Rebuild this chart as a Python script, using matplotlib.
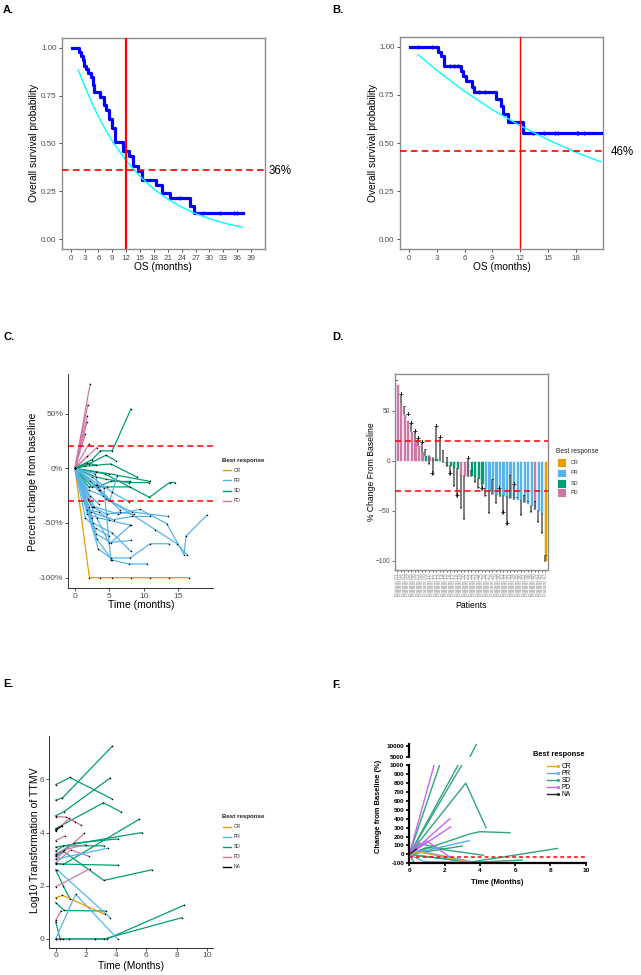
import matplotlib
matplotlib.use("Agg")
import matplotlib.pyplot as plt
from matplotlib.lines import Line2D
from matplotlib.patches import Rectangle

plt.rcParams['font.family'] = ['Liberation Sans', 'DejaVu Sans']

# ---------------- data ----------------
# Panel A (Kaplan-Meier, step post)
A_time = [0.3, 1.7, 2.2, 2.6, 2.9, 3.3, 3.8, 4.4, 4.8, 5.1, 6.3, 7.3, 7.6, 8.3, 8.9, 9.6,
          11.4, 12.5, 13.4, 14.5, 15.4, 18.4, 19.7, 21.5, 25.7, 26.7, 37.2]
A_surv = [1.00, 0.979, 0.957, 0.936, 0.904, 0.887, 0.867, 0.845, 0.806, 0.771, 0.745, 0.70,
          0.676, 0.627, 0.58, 0.506, 0.459, 0.433, 0.385, 0.355, 0.312, 0.286, 0.243, 0.217,
          0.173, 0.139, 0.139]
A_cens_t = [23.7, 28.5, 32.2, 35.4, 36.0]
A_cens_s = [0.217, 0.139, 0.139, 0.139, 0.139]
A_fit_t = [1.65, 3, 5, 7, 9, 12, 15, 18, 21, 24, 27, 30, 33, 37]
A_fit_s = [0.884, 0.800, 0.689, 0.594, 0.512, 0.410, 0.328, 0.262, 0.210, 0.168, 0.134, 0.108, 0.086, 0.064]
A_rate = 0.36

# Panel B
B_time = [0.1, 3.1, 3.46, 3.75, 5.58, 5.87, 6.12, 6.84, 7.05, 9.4, 9.94, 10.2, 10.65, 12.35, 20.8]
B_surv = [1.00, 0.974, 0.953, 0.901, 0.872, 0.846, 0.820, 0.789, 0.763, 0.728, 0.690, 0.650,
          0.610, 0.551, 0.551]
B_cens_t = [1.0, 2.45, 4.4, 4.9, 5.3, 7.6, 8.2, 13.4, 14.6, 15.8, 16.1, 18.1, 18.3, 18.9]
B_cens_s = [1.0, 1.0, 0.901, 0.901, 0.901, 0.763, 0.763, 0.551, 0.551, 0.551, 0.551, 0.551, 0.551, 0.551]
B_fit_t = [1, 3, 6, 9, 12, 15, 18, 20.7]
B_fit_s = [0.958, 0.877, 0.768, 0.673, 0.590, 0.517, 0.453, 0.402]
B_rate = 0.46

# Panel C (spider plot, % change)
C_resp = ['CR'] + ['PD'] * 9 + ['SD'] * 10 + ['PR'] * 20
C_times = [
    [0, 2.1, 3.6, 5.4, 8.1, 10.9, 13.6, 16.5],
    [0, 2.2], [0, 1.85], [0, 1.8], [0, 1.75], [0, 1.5], [0, 2.0], [0, 3.2], [0, 1.8], [0, 2.0, 2.5],
    [0, 2.5, 3.7, 5.4, 8.1], [0, 2.0, 4.5, 5.9], [0, 1.5, 5.2, 9.0], [0, 3.0, 5.0, 10.9],
    [0, 4.3, 10.8, 13.7, 14.5], [0, 3.3, 5.2, 8.0], [0, 2.0, 4.7, 8.0], [0, 3.1, 4.5, 7.8, 10.7],
    [0, 2.5, 3.2], [0, 1.8, 3.0],
    [0, 2.0, 4.9, 8.1], [0, 3.1, 5.2, 8.1], [0, 3.4, 5.2, 8.0, 10.9, 13.6],
    [0, 3.2, 5.4, 7.8, 10.5], [0, 2.6, 5.4, 8.1], [0, 2.3, 5.6, 8.3, 10.9],
    [0, 2.8, 6.3, 9.4, 13.3, 15.8, 16.1, 19.1], [0, 2.0, 4.0, 11.6, 14.8, 16.2],
    [0, 2.5, 5.4, 7.8], [0, 1.8, 3.5, 5.0], [0, 1.5, 3.0, 5.0], [0, 3.0, 5.1, 6.1],
    [0, 4.2, 5.2], [0, 2.2, 4.5, 8.3, 13.5], [0, 1.8, 3.2, 8.0], [0, 2.5, 4.6, 6.5, 8.5],
    [0, 2.2, 3.5], [0, 1.9, 2.6], [0, 2.9, 3.6], [0, 3.5, 6.5],
]
C_values = [
    [0, -100, -100, -100, -100, -100, -100, -100],
    [0, 77], [0, 58], [0, 48], [0, 42], [0, 31], [0, 22], [0, 19], [0, 11], [0, -35, -45],
    [0, 8, 16, 16, 54], [0, 4, 12, 7], [0, 2, 4, -8], [0, -3, -5, -12],
    [0, -5, -26.5, -13, -13], [0, -17, -12, -12], [0, -17, -17, -17], [0, -8, -10, -13, -13],
    [0, -17, -15], [0, 5, 3],
    [0, -30, -68, -66], [0, -60, -68, -52], [0, -74, -82, -82, -69, -69],
    [0, -65, -84, -87.5, -87.5], [0, -50, -59, -76], [0, -40, -47, -44, -44],
    [0, -35, -42, -37.5, -50.6, -79, -62, -43], [0, -20, -25, -56, -69, -79],
    [0, -8, -22, -30.5], [0, -38, -40, -47], [0, -45, -55, -62], [0, -15, -29, -7],
    [0, -18, -84], [0, -12, -28, -40, -44], [0, -42, -45, -52], [0, -35, -42, -40, -42],
    [0, -25, -33], [0, -28, -35], [0, -5, -20], [0, -20, -38],
]

# Panel D (waterfall)
D_vals = [77, 58, 47, 41, 30, 22, 16, 10, 6, 5, 3, 3, 1, -1, -5, -5, -7, -8, -15, -15, -15,
          -15, -16, -18, -23, -28, -30, -33, -34, -35, -35, -36, -37, -38, -39, -40, -41, -43,
          -45, -48, -50, -53, -100]
D_resp = (['PD'] * 8 + ['SD', 'PD', 'PD', 'SD'] + ['SD'] * 6 + ['PD'] * 3 + ['SD'] * 4
          + ['PR'] * 14 + ['PD', 'PR', 'PR', 'CR'])
D_mark = [80, 65, 54, 45, 36, 28, 21, 17, 11, -3, -14, 33, 22, 10, 3, -14, -25, -36, -47,
          -58, 1, -10, -21, -27, -29, -35, -52, -19, -42, -29, -53, -64, -15, -25, -37, -54,
          -35, -41, -51, -41, -61, -72, -95]
D_sign = ['-', '+', '-', '+', '+', '+', '+', '+', '-', '-', '+', '+', '+', '-', '-', '+', '-',
          '+', '-', '-', '+', '-', '-', '-', '+', '-', '-', '-', '-', '+', '+', '+', '-', '+',
          '-', '-', '-', '-', '-', '-', '-', '-', '-']
D_ids = ['Patient %02d' % (i + 1) for i in range(len(D_vals))]

# Panel E (log10 TTMV)
E_resp = ['SD'] * 15 + ['PD'] * 9 + ['PR'] * 3 + ['CR', 'NA']
E_times = [
    [0, 0.95, 3.7], [0, 0.45, 3.75], [0, 0.57, 3.6], [0, 3.16, 4.33], [0, 5.7],
    [0, 1.2, 4.1], [0, 4.15], [0, 0.5, 3.18, 6.36], [0, 0.5, 5.52], [0, 0.57, 3.3],
    [0, 0.3], [0, 2.6, 3.4, 8.5], [0, 3.2, 8.34], [0, 0.5, 3.2], [0, 0.5, 0.95],
    [0, 0.7, 1.68], [0, 0.6], [0, 0.88, 1.3], [0, 1.9], [0, 1.0, 2.23], [0, 2.27],
    [0, 0.35], [0, 0.3, 0.5, 0.9, 2.6], [0, 0.55, 2.0],
    [0, 3.44], [0.1, 3.6], [0, 1.32, 4.1],
    [0, 0.45, 3.27], [0, 0.45],
]
E_values = [
    [5.8, 6.07, 5.27], [5.22, 5.3, 7.25], [4.63, 4.79, 6.05], [4.15, 5.12, 4.77], [3.45, 4.0],
    [3.15, 3.6, 3.76], [2.82, 2.77], [3.1, 3.3, 2.2, 2.6], [2.85, 2.8, 4.5], [1.37, 1.07, 1.05],
    [0.65, 0], [0, 0, 0, 1.27], [0, 0, 0.8], [3.3, 3.5, 3.5], [2.6, 2.0, 1.5],
    [4.6, 4.58, 4.28], [3.7, 3.87], [4.05, 4.53, 4.4], [3.0, 3.97], [2.85, 3.35, 3.1],
    [1.96, 2.64], [0.7, 1.05], [0, 0, 0, 0, 0], [3.2, 3.35, 3.55],
    [3.0, 3.41], [2.6, 0.8], [0, 1.68, 0],
    [1.55, 1.64, 0.92], [4.1, 4.25],
]

# Panel F (change from baseline, broken axis)
F_resp = ['SD'] * 11 + ['PD'] * 5 + ['PR'] * 3 + ['CR', 'NA']
F_times = [
    [0, 3.2, 3.8], [0, 1.8], [0, 2.9], [0, 3.2, 4.35], [0, 3.4, 4.0, 5.7], [0, 3.0],
    [0, 1.0, 4.2], [0, 3.5, 6.4], [0, 3.5, 8.4], [0, 0.3], [0, 0.6, 2.0],
    [0, 1.4], [0, 2.3], [0, 2.35], [0, 0.5], [0, 1.0, 2.3],
    [0, 3.4], [0, 0.8, 3.6], [0, 0.5, 3.5],
    [0, 0.5, 3.3], [0, 0.4],
]
F_values = [
    [0, 1080, 10800], [0, 1050], [0, 1050], [0, 800, 300], [0, 228, 255, 243], [0, 94],
    [0, 80, -10], [0, -90, -64], [0, -85, 67], [0, -100], [0, 120, 60],
    [0, 1000], [0, 400], [0, 310], [0, 150], [0, 150, -30],
    [0, 154], [0, -80, -90], [0, 40, -80],
    [0, 30, -82], [0, 60],
]

resp_order = ['CR', 'PR', 'SD', 'PD']
gg_col = {'CR': '#E69F00', 'PR': '#56B4E9', 'SD': '#009E73', 'PD': '#CC79A7', 'NA': '#000000'}
gp_col = {'CR': '#F39A2C', 'PR': '#5AA9EE', 'SD': '#2FA57C', 'PD': '#C466F0', 'NA': '#222222'}

# ---------------- figure ----------------
W, H = 641, 975
fig = plt.figure(figsize=(W / 100, H / 100), dpi=100)


def add_ax(l, t, r, b):
    return fig.add_axes([l / W, 1 - b / H, (r - l) / W, (b - t) / H])


def ftext(x, y, s, **kw):
    fig.text(x / W, 1 - y / H, s, **kw)


def fline(x0, x1, y, **kw):
    fig.add_artist(Line2D([x0 / W, x1 / W], [1 - y / H, 1 - y / H], transform=fig.transFigure, **kw))


TICKC = '#4D4D4D'
RED = '#FF0000'

# panel letters
for lab, x, y in [('A.', 3, 10), ('B.', 332, 10), ('C.', 3, 337), ('D.', 332, 337),
                  ('E.', 3, 684), ('F.', 332, 685)]:
    ftext(x, y, lab, fontsize=8, fontweight='bold', va='center', ha='left')


def km_panel(ax, t, s, ct, cs, ft, fs, rate, xlim, xticks, vline_lw):
    ax.step(t, s, where='post', color='#0000FF', lw=2.3, zorder=3)
    ax.plot(ct, cs, ls='none', marker='+', ms=3.5, mew=1.0, color='#0000FF', zorder=4)
    ax.plot(ft, fs, color='#00FFFF', lw=1.0, zorder=4)
    ax.axvline(12, color=RED, lw=vline_lw, zorder=5)
    ax.axhline(rate, color=RED, lw=1.2, dashes=(4, 2.5), zorder=5)
    ax.set_xlim(*xlim)
    ax.set_ylim(-0.05, 1.05)
    ax.set_xticks(xticks)
    ax.set_yticks([0, 0.25, 0.5, 0.75, 1.0])
    ax.set_yticklabels(['0.00', '0.25', '0.50', '0.75', '1.00'])
    for sp in ax.spines.values():
        sp.set_color('#8C8C8C')
        sp.set_linewidth(1.0)
    ax.tick_params(labelsize=5.8, colors='#333333', labelcolor=TICKC, length=2.5, width=0.6, pad=1.5)


axA = add_ax(62, 38, 265, 249)
km_panel(axA, A_time, A_surv, A_cens_t, A_cens_s, A_fit_t, A_fit_s, A_rate,
         (-1.88, 42.0), list(range(0, 40, 3)), 1.6)
ftext(34, 143, 'Overall survival probability', rotation=90, fontsize=7.3, ha='center', va='center')
ftext(163, 267, 'OS (months)', fontsize=7.3, ha='center', va='center')
ftext(269, 170.5, '36%', fontsize=8.3, ha='left', va='center')

axB = add_ax(400, 37, 603, 249)
km_panel(axB, B_time, B_surv, B_cens_t, B_cens_s, B_fit_t, B_fit_s, B_rate,
         (-0.97, 20.95), list(range(0, 19, 3)), 1.0)
ftext(373, 143, 'Overall survival probability', rotation=90, fontsize=7.3, ha='center', va='center')
ftext(502, 267, 'OS (months)', fontsize=7.3, ha='center', va='center')
ftext(611, 152, '46%', fontsize=8.3, ha='left', va='center')


def classic(ax):
    for k in ('top', 'right'):
        ax.spines[k].set_visible(False)
    for k in ('left', 'bottom'):
        ax.spines[k].set_color('#333333')
        ax.spines[k].set_linewidth(0.7)
    ax.tick_params(labelsize=6, colors='#333333', labelcolor=TICKC, length=2.5, width=0.6, pad=1.0)


def gg_legend(x, ytitle, ys, labels, colors):
    ftext(x, ytitle, 'Best response', fontsize=4.4, fontweight='bold', ha='left', va='center',
          color='#222222')
    for yy, lab in zip(ys, labels):
        fline(x + 0.5, x + 8.5, yy, color=colors[lab], lw=1.0)
        ftext(x + 12, yy, lab, fontsize=3.6, ha='left', va='center', color='#333333')


# Panel C
axC = add_ax(68, 374, 213, 588)
for xs, ys, r in zip(C_times, C_values, C_resp):
    axC.plot(xs, ys, color=gg_col[r], lw=0.9, zorder=2)
    axC.scatter(xs, ys, s=1.2, color='black', zorder=3, linewidths=0)
axC.axhline(20, color=RED, lw=1.1, dashes=(4, 2.5), zorder=4)
axC.axhline(-30, color=RED, lw=1.1, dashes=(4, 2.5), zorder=4)
axC.set_xlim(-1.0, 20.0)
axC.set_ylim(-109.5, 86.3)
axC.set_xticks([0, 5, 10, 15])
axC.set_yticks([-100, -50, 0, 50])
axC.set_yticklabels(['-100%', '-50%', '0%', '50%'])
classic(axC)
ftext(33, 482, 'Percent change from baseline', rotation=90, fontsize=7.5, ha='center', va='center')
ftext(141, 605, 'Time (months)', fontsize=7.5, ha='center', va='center')
gg_legend(222, 461, [470, 480, 490.5, 500.5], resp_order, gg_col)

# Panel D
axD = add_ax(395, 374, 548, 570)
xs = list(range(1, len(D_vals) + 1))
axD.bar(xs, D_vals, width=0.92, color=[gg_col[r] for r in D_resp], edgecolor='white',
        linewidth=0.4, zorder=2)
for x, v, m, sg in zip(xs, D_vals, D_mark, D_sign):
    if abs(m - v) > 4:
        axD.plot([x, x], [v, m], color='#5A5A5A', lw=1.1, zorder=3)
    axD.text(x, m, sg, fontsize=6 if sg == '+' else 4.5, fontweight='bold', ha='center',
             va='center', color='black', zorder=4)
axD.axhline(20, color=RED, lw=1.1, dashes=(4, 2.5), zorder=5)
axD.axhline(-30, color=RED, lw=1.1, dashes=(4, 2.5), zorder=5)
axD.set_xlim(0.35, 43.75)
axD.set_ylim(-109.3, 86.7)
axD.set_yticks([-100, -50, 0, 50])
axD.set_xticks(xs)
axD.set_xticklabels(D_ids, rotation=90, fontsize=3.6, color='#888888')
for sp in axD.spines.values():
    sp.set_color('#8C8C8C')
    sp.set_linewidth(1.0)
axD.tick_params(axis='y', labelsize=4.8, colors='#333333', labelcolor=TICKC, length=2, width=0.5, pad=1.5)
axD.tick_params(axis='x', length=1.5, width=0.4, pad=1)
ftext(372, 472, '% Change From Baseline', rotation=90, fontsize=6.2, ha='center', va='center')
ftext(471, 606, 'Patients', fontsize=6.2, ha='center', va='center')
ftext(556.5, 451.5, 'Best response', fontsize=4.8, ha='left', va='center', color='#222222')
for yy, lab in zip([462.5, 473, 483.5, 492.5], resp_order):
    fig.add_artist(Rectangle(((557.3) / W, 1 - (yy + 4.2) / H), 8.7 / W, 8.4 / H,
                             transform=fig.transFigure, facecolor=gg_col[lab],
                             edgecolor='white', lw=0.6))
    ftext(570.5, yy, lab, fontsize=4.0, ha='left', va='center', color='#333333')

# Panel E
axE = add_ax(49, 736, 213, 948)
for xs_, ys_, r in zip(E_times, E_values, E_resp):
    axE.plot(xs_, ys_, color=gg_col[r], lw=0.9, zorder=2)
    axE.scatter(xs_, ys_, s=1.2, color='black', zorder=3, linewidths=0)
axE.set_xlim(-0.44, 10.4)
axE.set_ylim(-0.34, 7.63)
axE.set_xticks([0, 2, 4, 6, 8, 10])
axE.set_yticks([0, 2, 4, 6])
classic(axE)
axE.tick_params(axis='x', pad=0.5)
ftext(35, 840, 'Log10 Transformation of TTMV', rotation=90, fontsize=7.6, ha='center', va='center')
ftext(131, 966, 'Time (Months)', fontsize=7.4, ha='center', va='center')
gg_legend(222, 816.7, [827, 837, 846.5, 856.5, 866.5], resp_order + ['NA'], gg_col)

# Panel F (broken y axis)
axF = add_ax(409.3, 765.3, 585.7, 863.3)
axFt = add_ax(409.3, 744, 585.7, 757.3)
for a in (axF, axFt):
    for xs_, ys_, r in zip(F_times, F_values, F_resp):
        a.plot(xs_, ys_, color=gp_col[r], lw=1.0, zorder=2)
    a.set_xlim(0, 10)
    for k in ('top', 'right'):
        a.spines[k].set_visible(False)
    a.spines['left'].set_linewidth(1.6)
    a.spines['bottom'].set_linewidth(1.6)
    a.tick_params(labelsize=4.6, length=2.5, width=1.2, pad=1.2)
axF.plot([0, 10], [-30, -30], color=RED, lw=1.1, dashes=(2.5, 2), zorder=3)
axF.set_ylim(-100, 1000)
axF.set_yticks(list(range(-100, 1001, 100)))
axF.set_yticklabels([str(v) for v in range(-100, 1001, 100)], fontweight='bold')
axF.set_xticks([0, 2, 4, 6, 8, 10])
axF.set_xticklabels(['0', '2', '4', '6', '8', '10'], fontweight='bold')
axFt.set_ylim(4720, 10935)
axFt.set_yticks([5000, 10000])
axFt.set_yticklabels(['5000', '10000'], fontweight='bold')
axFt.spines['bottom'].set_visible(False)
axFt.set_xticks([])
ftext(378, 806, 'Change from Baseline (%)', rotation=90, fontsize=5.4, fontweight='bold',
      ha='center', va='center')
ftext(497.7, 883, 'Time (Months)', fontsize=5.6, fontweight='bold', ha='center', va='center')
ftext(558.7, 754, 'Best response', fontsize=5.4, fontweight='bold', ha='center', va='center')
for yy, lab in zip([766, 773.3, 780, 787.3, 794], resp_order + ['NA']):
    fline(546.7, 558.3, yy, color=gp_col[lab], lw=1.0, marker='o', markersize=1.2,
          markevery=[1])
    ftext(561.7, yy, lab, fontsize=4.8, ha='left', va='center')

fig.savefig('out.png', dpi=100)
